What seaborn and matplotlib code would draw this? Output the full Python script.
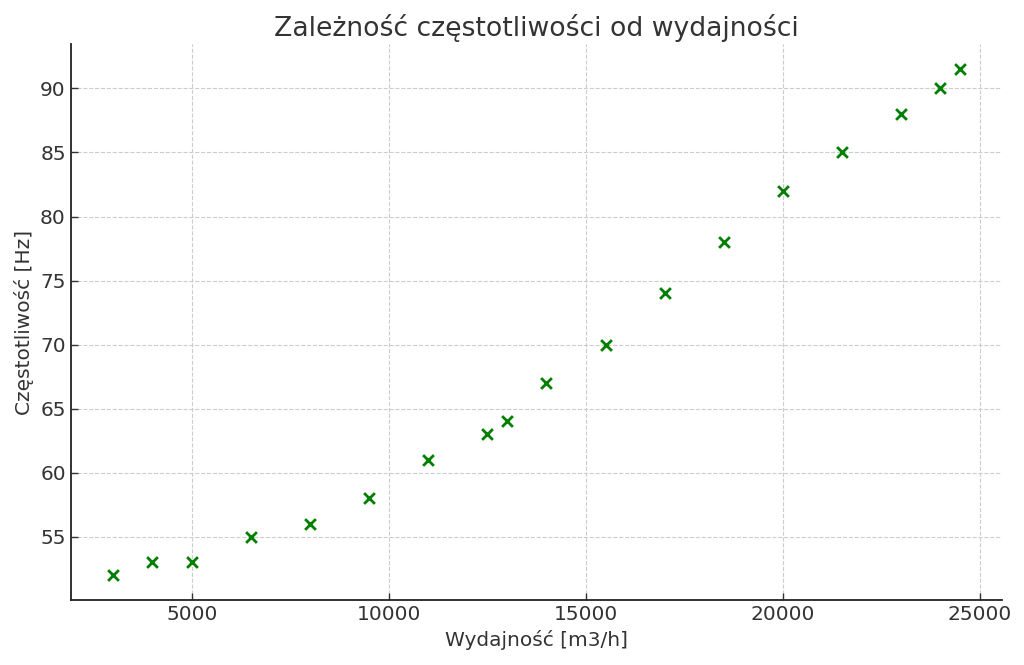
import matplotlib
matplotlib.use("Agg")
import matplotlib.pyplot as plt
import seaborn as sns
import pandas as pd

wydajnosc = [3000, 4000, 5000, 6500, 8000, 9500, 11000, 12500, 13000, 14000,
             15500, 17000, 18500, 20000, 21500, 23000, 24000, 24500]
czestotliwosc = [52, 53, 53, 55, 56, 58, 61, 63, 64, 67,
                 70, 74, 78, 82, 85, 88, 90, 91.5]

df = pd.DataFrame({"Wydajność [m3/h]": wydajnosc, "Częstotliwość [Hz]": czestotliwosc})

sns.set_style("ticks")
plt.rcParams['font.family'] = ['DejaVu Sans']

fig, ax = plt.subplots(figsize=(10.24, 6.65), dpi=100)
sns.scatterplot(data=df, x="Wydajność [m3/h]", y="Częstotliwość [Hz]", ax=ax,
                marker="x", color="green", s=60, linewidth=2.0)

ax.set_title("Zależność częstotliwości od wydajności", fontsize=19.2, color="#333333")
ax.set_xlabel("Wydajność [m3/h]", fontsize=14.5, color="#333333")
ax.set_ylabel("Częstotliwość [Hz]", fontsize=14.5, color="#333333")
ax.tick_params(axis="both", labelsize=14.5, direction="in", length=5, width=1,
               labelcolor="#333333", colors="#333333")
ax.grid(True, linestyle="--", color="#cccccc", linewidth=0.8)
for s in ["top", "right"]:
    ax.spines[s].set_visible(False)
for s in ["left", "bottom"]:
    ax.spines[s].set_color("#222222")
    ax.spines[s].set_linewidth(1.3)

fig.subplots_adjust(left=0.069, right=0.979, top=0.934, bottom=0.097)
fig.savefig("out.png", dpi=100)
